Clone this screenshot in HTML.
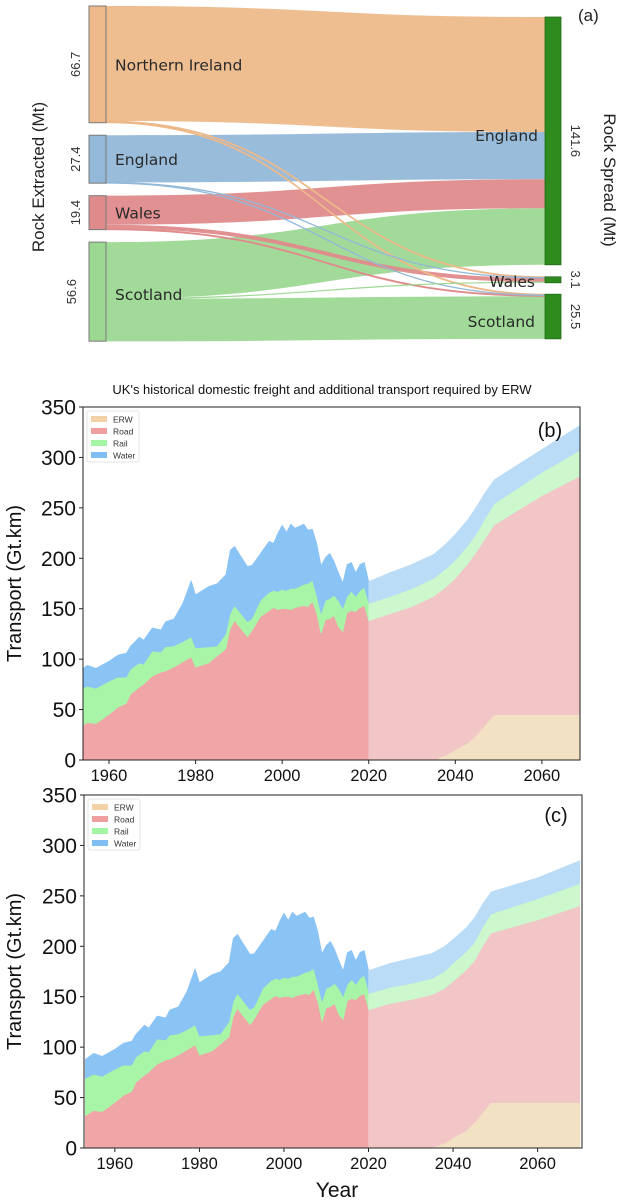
<!DOCTYPE html>
<html><head><meta charset="utf-8">
<style>
html,body{margin:0;padding:0;background:#fff;}
svg{display:block;font-family:"Liberation Sans",sans-serif;}
</style></head>
<body>
<svg id="fig" width="618" height="1200" viewBox="0 0 618 1200"></svg>
<script>
// ---------- Sankey data (panel a) ----------
const leftNodes = ["Northern Ireland","England","Wales","Scotland"];
const leftValues = [66.7, 27.4, 19.4, 56.6];
const rightNodes = ["England","Wales","Scotland"];
const rightValues = [141.6, 3.1, 25.5];
// flows[source][target]
const flowNI = [65.7, 0.5, 0.5];
const flowEng = [27.0, 0.2, 0.2];
const flowWales = [16.6, 2.3, 0.5];
const flowScot = [32.3, 0.1, 24.3];

// ---------- Freight data (panels b, c) ----------
const histYears = [1953,1955,1957,1960,1962,1964,1965,1967,1968,1970,1972,1973,1975,1977,1979,1980,1983,1985,1987,1988,1989,1992,1993,1995,1997,1998,1999,2000,2001,2002,2003,2005,2006,2007,2008,2009,2010,2011,2012,2013,2014,2015,2016,2017,2018,2019,2020];
const histRoad = [32,37,36,45,52,56,65,72,75,83,87,88,92,97,102,92,96,103,110,130,138,122,128,142,148,151,149,150,150,149,151,153,152,157,145,125,139,140,143,132,127,146,148,147,151,153,138];
const histRail = [37,36,35,33,30,26,25,24,20,25,20,24,21,20,20,19,16,10,15,15,15,15,12,16,18,17,18,19,18,21,19,21,23,21,18,20,19,20,20,26,23,16,19,15,17,18,18];
const histWater = [19,21,20,20,22,24,23,26,24,23,22,25,27,38,56,53,60,62,59,63,59,55,53,47,51,47,58,64,58,64,60,60,53,51,52,48,43,45,34,28,26,32,29,24,26,25,21];

const projYears = [2020,2025,2030,2035,2038,2040,2043,2045,2047,2049,2060,2070];
const projERW = [0,0,0,0,5,10,17,25,35,45,45,45];
const projRoadB = [138,145,152,162,167,170,178,182,185,188,217,239];
const projRailB = [17,17,18,18,18,18,18,18,20,21,23,26];
const projWaterB = [22,24,24,24,25,26,26,27,26,24,23,25];
const projRoadC = [137,143,147,152,153,155,159,160,165,168,181,195];
const projRailC = [16,16,16,16,17,18,18,18,19,19,21,22];
const projWaterC = [23,24,25,25,25,24,24,25,23,22,21,23];

const yTicks = [0,50,100,150,200,250,300,350];
const xTicks = [1960,1980,2000,2020,2040,2060];
const legendLabels = ["ERW","Road","Rail","Water"];

const NS = "http://www.w3.org/2000/svg";
const svg = document.getElementById("fig");
function mk(tag, attrs, parent){
  const e = document.createElementNS(NS, tag);
  for (const k in attrs) e.setAttribute(k, attrs[k]);
  (parent||svg).appendChild(e);
  return e;
}
function txt(s, attrs, parent){ const t = mk("text", attrs, parent); t.textContent = s; return t; }

// ---------- Sankey ----------
(function(){
  const g = mk("g", {});
  
  
  const k = 1.75, lx0 = 89, lx1 = 106, rx0 = 545, rx1 = 561;
  const leftGap = 12.5, rightGap = 12;
  const lColors = ["#edb98a","#93b8d8","#df8b8b","#9dd893"];
  const flows = [flowNI, flowEng, flowWales, flowScot];
  const lTop = []; let y = 6;
  leftValues.forEach(v => { lTop.push(y); y += v*k + leftGap; });
  const rTop = []; y = 17;
  rightValues.forEach(v => { rTop.push(y); y += v*k + rightGap; });
  const lOff = lTop.slice(), rOff = rTop.slice();
  const links = [];
  for (let s=0; s<flows.length; s++){
    for (let t=0; t<rightNodes.length; t++){
      const h = flows[s][t]*k;
      links.push({s, t, y0:lOff[s], h});
      lOff[s] += h;
    }
  }
  const byT = links.slice().sort((a,b)=> a.t-b.t || a.s-b.s);
  byT.forEach(l => { l.y1 = rOff[l.t]; rOff[l.t] += l.h; });
  const mx = (lx1+rx0)/2;
  links.slice().sort((a,b)=>b.h-a.h).forEach(l=>{
    const d = `M${lx1},${l.y0} C${mx},${l.y0} ${mx},${l.y1} ${rx0},${l.y1} L${rx0},${l.y1+l.h} C${mx},${l.y1+l.h} ${mx},${l.y0+l.h} ${lx1},${l.y0+l.h} Z`;
    const p = mk("path", {d, fill:lColors[l.s], "fill-opacity": 0.95, stroke: l.h<2 ? lColors[l.s] : "none", "stroke-width": l.h<2?1:0}, g);
    
    
  });
  leftValues.forEach((v,i)=>{
    const r = mk("rect", {x:lx0, y:lTop[i], width:lx1-lx0, height:v*k, fill:lColors[i], stroke:"#7a7a7a", "stroke-width":1}, g);
    
    
    const cy = lTop[i] + v*k/2;
    const lab = txt(leftNodes[i], {x:115, y: i===3 ? 300 : cy+6, "font-size":15.5, fill:"#2a2a2a", "font-family":"DejaVu Sans, sans-serif"}, g);
    
    
    const val = txt(String(v), {x:0, y:0, "font-size":13, fill:"#333", "text-anchor":"middle", transform:`translate(${i===3?76:80},${cy}) rotate(-90)`}, g);
    
    
  });
  const rLabelY = [141, 287, 327];
  const rLabelX = [538, 535, 535];
  rightValues.forEach((v,i)=>{
    const r = mk("rect", {x:rx0, y:rTop[i], width:rx1-rx0, height:Math.max(v*k,6), fill:"#2e8b1e", stroke:"#236b16", "stroke-width":0.8}, g);
    
    
    const lab = txt(rightNodes[i], {x:rLabelX[i], y:rLabelY[i], "font-size":15.5, fill:"#2a2a2a", "text-anchor":"end", "font-family":"DejaVu Sans, sans-serif"}, g);
    
    
    const cy = rTop[i] + v*k/2;
    const val = txt(String(v), {x:0, y:0, "font-size":13, fill:"#333", "text-anchor":"middle", transform:`translate(${571},${cy}) rotate(90)`}, g);
    
    
  });
  const t1 = txt("Rock Extracted (Mt)", {x:0,y:0,"font-size":17,fill:"#222","text-anchor":"middle",transform:"translate(44,177) rotate(-90)"}, g);
  
  
  const t2 = txt("Rock Spread (Mt)", {x:0,y:0,"font-size":17,fill:"#222","text-anchor":"middle",transform:"translate(604,180) rotate(90)"}, g);
  
  
  const t3 = txt("(a)", {x:578,y:21,"font-size":17,fill:"#222"}, g);
  
  
})();

// ---------- Stacked area panels ----------
function areaPanel(cfg){
  const g = mk("g", {});
  
  
  const X = yr => cfg.x0 + (yr - cfg.xmin) / (cfg.xmax - cfg.xmin) * (cfg.x1 - cfg.x0);
  const Y = v => cfg.y0 - v / 350 * (cfg.y0 - cfg.y1);
  const clip = mk("clipPath", {id:"clip-"+cfg.name}, g);
  mk("rect", {x:cfg.x0, y:cfg.y1, width:cfg.x1-cfg.x0, height:cfg.y0-cfg.y1}, clip);
  const ag = mk("g", {"clip-path":"url(#clip-"+cfg.name+")"}, g);
  function band(years, lower, upper, fill, name){
    let d = "M" + years.map((yr,i)=>X(yr).toFixed(2)+","+Y(upper[i]).toFixed(2)).join(" L");
    for (let i=years.length-1;i>=0;i--) d += " L"+X(years[i]).toFixed(2)+","+Y(lower[i]).toFixed(2);
    d += " Z";
    const p = mk("path", {d, fill, stroke:fill, "stroke-width":0.5}, ag);
    
    
  }
  function cum(arrs){ const out=[]; let acc = arrs[0].map(()=>0); out.push(acc.slice()); arrs.forEach(a=>{ acc = acc.map((v,i)=>v+a[i]); out.push(acc.slice()); }); return out; }
  const h = cum([histRoad, histRail, histWater]);
  band(histYears, h[0], h[1], "#f0a6a6", "road-area-historical");
  band(histYears, h[1], h[2], "#a8f5a8", "rail-area-historical");
  band(histYears, h[2], h[3], "#8ac4f5", "water-area-historical");
  const p = cum([projERW, cfg.road, cfg.rail, cfg.water]);
  band(projYears, p[0], p[1], "#f3e1c3", "erw-area-projected");
  band(projYears, p[1], p[2], "#f2c5c7", "road-area-projected");
  band(projYears, p[2], p[3], "#cdf7cd", "rail-area-projected");
  band(projYears, p[3], p[4], "#bbdcf6", "water-area-projected");
  const fr = mk("rect", {x:cfg.x0, y:cfg.y1, width:cfg.x1-cfg.x0, height:cfg.y0-cfg.y1, fill:"none", stroke:"#222", "stroke-width":1}, g);
  
  
  yTicks.forEach(v=>{
    const l = mk("line", {x1:cfg.x0-4, x2:cfg.x0, y1:Y(v), y2:Y(v), stroke:"#222"}, g);
    
    
    const t = txt(String(v), {x:cfg.x0-7, y:Y(v)+7.5, "font-size":21, "text-anchor":"end", fill:"#111"}, g);
    
    
  });
  xTicks.forEach(v=>{
    const l = mk("line", {x1:X(v), x2:X(v), y1:cfg.y0, y2:cfg.y0+4, stroke:"#222"}, g);
    
    
    const t = txt(String(v), {x:X(v), y:cfg.y0+21, "font-size":16.5, "text-anchor":"middle", fill:"#111"}, g);
    
    
  });
  const yt = txt("Transport (Gt.km)", {x:0,y:0,"font-size":20,"text-anchor":"middle",fill:"#111",transform:`translate(21,${(cfg.y0+cfg.y1)/2}) rotate(-90)`}, g);
  
  
  const pl = txt(cfg.label, {x:cfg.lx, y:cfg.ly, "font-size":20, fill:"#111", "text-anchor":"middle"}, g);
  
  
  const lg = mk("g", {}, g);
  
  
  const lb = mk("rect", {x:cfg.x0+4, y:cfg.y1+4, width:52, height:51, fill:"#fff", stroke:"#ddd", "stroke-width":0.8, rx:2}, lg);
  
  
  const lc = ["#f3d2a8","#ef9f9f","#a3f5a3","#7fbdf2"];
  legendLabels.forEach((s,i)=>{
    const yy = cfg.y1 + 9 + i*12;
    const sw = mk("rect", {x:cfg.x0+8, y:yy, width:16, height:6, fill:lc[i]}, lg);
    
    
    const t = txt(s, {x:cfg.x0+30, y:yy+6.5, "font-size":8.5, fill:"#333"}, lg);
    
    
  });
}

const title = txt("UK's historical domestic freight and additional transport required by ERW", {x:322, y:394, "font-size":13, "text-anchor":"middle", fill:"#111"});



areaPanel({name:"panel-b", x0:83, x1:580, y0:760, y1:407, xmin:1954, xmax:2068.8, label:"(b)", lx:550, ly:437, road:projRoadB, rail:projRailB, water:projWaterB});
areaPanel({name:"panel-c", x0:84, x1:582, y0:1148, y1:795, xmin:1952.7, xmax:2070.5, label:"(c)", lx:556, ly:822, road:projRoadC, rail:projRailC, water:projWaterC});

const xt = txt("Year", {x:337, y:1197, "font-size":21, "text-anchor":"middle", fill:"#111"});


</script>
</body></html>
